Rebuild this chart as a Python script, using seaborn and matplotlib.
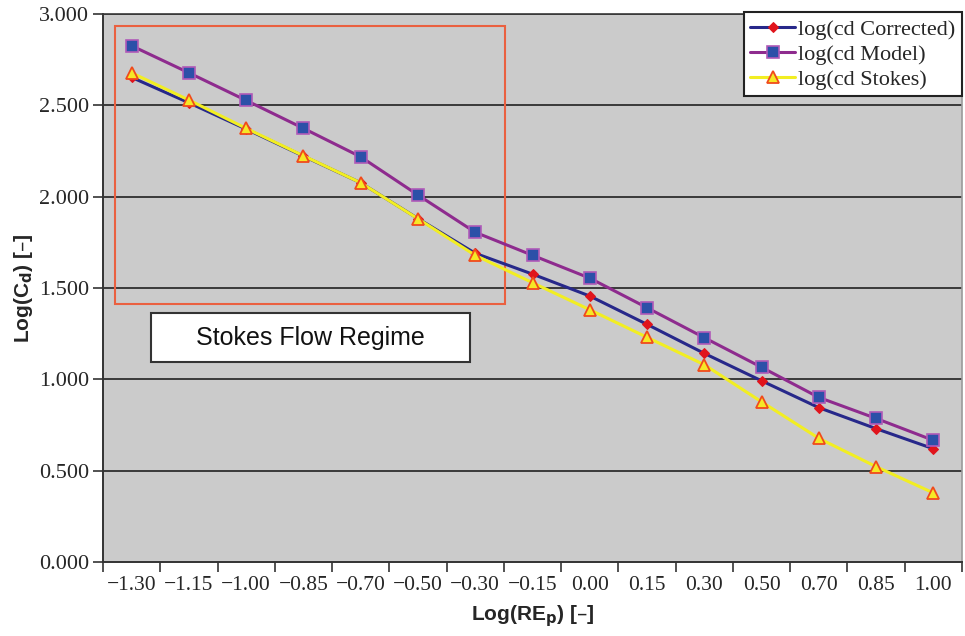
import matplotlib
matplotlib.use("Agg")
import matplotlib.pyplot as plt
import seaborn as sns
import numpy as np
import pandas as pd
from matplotlib.patches import Rectangle

x_labels = ["\u22121.30", "\u22121.15", "\u22121.00", "\u22120.85", "\u22120.70", "\u22120.50",
            "\u22120.30", "\u22120.15", "0.00", "0.15", "0.30", "0.50", "0.70", "0.85", "1.00"]
cd_corrected = [2.653, 2.514, 2.370, 2.222, 2.076, 1.880, 1.690, 1.576, 1.456, 1.301,
                1.142, 0.992, 0.845, 0.730, 0.620]
cd_model = [2.826, 2.678, 2.527, 2.374, 2.218, 2.009, 1.805, 1.679, 1.554, 1.392,
            1.228, 1.066, 0.901, 0.786, 0.666]
cd_stokes = [2.678, 2.529, 2.374, 2.224, 2.076, 1.879, 1.679, 1.529, 1.381, 1.230,
             1.080, 0.877, 0.677, 0.522, 0.378]
y_ticks = [0.0, 0.5, 1.0, 1.5, 2.0, 2.5, 3.0]

sns.set_theme(style="white")
plt.rcParams['font.family'] = ['Liberation Serif', 'DejaVu Serif']
plt.rcParams['mathtext.default'] = 'regular'

fig = plt.figure(figsize=(9.65, 6.36), dpi=100)
ax = fig.add_axes([103/965, 74/636, 859/965, 548/636])
ax.set_facecolor('#cbcbcb')

idx = np.arange(len(x_labels))
df = pd.DataFrame({"idx": idx, "Corrected": cd_corrected, "Model": cd_model, "Stokes": cd_stokes})

# horizontal grid lines
for yv in y_ticks[1:]:
    ax.axhline(yv, color='#3a3a3a', lw=1.4, zorder=1)

sns.lineplot(data=df, x="idx", y="Corrected", ax=ax, color='#27288a', lw=2.2,
             marker='D', markersize=5, markerfacecolor='#e0141c', markeredgecolor='#e0141c',
             label='log(cd Corrected)', zorder=3)
sns.lineplot(data=df, x="idx", y="Model", ax=ax, color='#8e2b8e', lw=2.2,
             marker='s', markersize=8, markerfacecolor='#2c50a8', markeredgecolor='#b05ab8',
             markeredgewidth=1.2, label='log(cd Model)', zorder=4)
sns.lineplot(data=df, x="idx", y="Stokes", ax=ax, color='#f2ee22', lw=2.2,
             marker='^', markersize=9, markerfacecolor='#f6e826', markeredgecolor='#f04a1c',
             markeredgewidth=1.3, label='log(cd Stokes)', zorder=5)

ax.set_xlim(-0.5, len(x_labels) - 0.5)
ax.set_ylim(0, 3.0)

# red rectangle for Stokes region
ax.add_patch(Rectangle((-0.285, 1.414), 6.813, 1.521, fill=False,
                       edgecolor='#ea6040', lw=1.5, zorder=2))
# text box
ax.add_patch(Rectangle((0.332, 1.095), 5.585, 0.268, facecolor='white',
                       edgecolor='#333333', lw=1.5, zorder=2))
ax.text(0.332 + 5.585/2, 1.095 + 0.268/2, "Stokes Flow Regime", ha='center', va='center',
        fontsize=18, family=['Liberation Sans', 'DejaVu Sans'], color='#111111', zorder=3)

# ticks
ax.set_xticks(idx)
ax.set_xticklabels(x_labels, fontsize=15.5)
ax.set_xticks(np.arange(-0.5, len(x_labels)), minor=True)
ax.tick_params(axis='x', which='both', bottom=True)
ax.tick_params(axis='x', which='major', length=0, pad=10)
ax.tick_params(axis='x', which='minor', length=7, width=1.2, color='#333333', direction='out')
ax.set_yticks(y_ticks)
ax.set_yticklabels([f"{v:.3f}" for v in y_ticks], fontsize=16)
ax.tick_params(axis='y', which='major', left=True, length=7, width=1.2, color='#333333',
               direction='out', pad=3)

for s in ['left', 'bottom']:
    ax.spines[s].set_color('#333333')
    ax.spines[s].set_linewidth(1.4)
ax.spines['top'].set_color('#3a3a3a')
ax.spines['top'].set_linewidth(1.2)
ax.spines['right'].set_color('#9a9a9a')
ax.spines['right'].set_linewidth(1.2)

ax.set_xlabel("Log(RE$_\\mathbf{p}$) [\u2013]", fontsize=15, fontweight='bold',
              family=['Liberation Sans', 'DejaVu Sans'], labelpad=6)
ax.set_ylabel("Log(C$_\\mathbf{d}$) [\u2013]", fontsize=15, fontweight='bold',
              family=['Liberation Sans', 'DejaVu Sans'], labelpad=3)

leg = ax.legend(loc='upper right', bbox_to_anchor=(1.0, 1.003), fontsize=16, frameon=True,
                fancybox=False, framealpha=1, edgecolor='#222222', handlelength=2.0,
                handletextpad=0.15, labelspacing=0.2, borderpad=0.3, borderaxespad=0.0)
leg.get_frame().set_linewidth(1.5)
leg.set_zorder(10)

fig.savefig("out.png", dpi=100)
